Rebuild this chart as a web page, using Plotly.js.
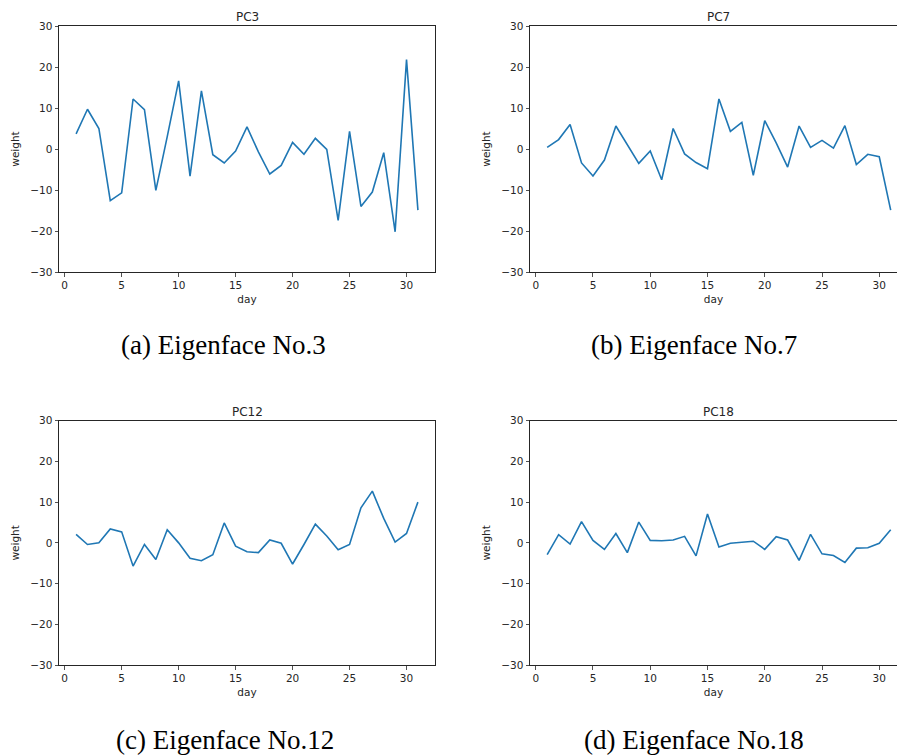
<!DOCTYPE html>
<html>
<head>
<meta charset="utf-8">
<script src="https://cdn.plot.ly/plotly-3.0.1.min.js"></script>
<style>html,body{margin:0;padding:0;background:#fff;}#chart{width:897px;height:755px;}</style>
</head>
<body>
<div id="chart"></div>
<script>
const days = Array.from({length: 31}, (_, i) => i + 1);
const pcTitles = ["PC3", "PC7", "PC12", "PC18"];
const captions = ["(a) Eigenface No.3", "(b) Eigenface No.7", "(c) Eigenface No.12", "(d) Eigenface No.18"];
const yTickVals = [-30, -20, -10, 0, 10, 20, 30];
const xTickVals = [0, 5, 10, 15, 20, 25, 30];

const pc3 = [3.7, 9.7, 5.0, -12.6, -10.7, 12.2, 9.6, -10.1, 3.0, 16.6, -6.6, 14.2, -1.4, -3.4, -0.5, 5.4,
  -0.7, -6.1, -4.0, 1.6, -1.3, 2.6, -0.1, -17.4, 4.3, -14.0, -10.5, -0.9, -20.2, 21.8, -14.9];
const pc7 = [0.4, 2.3, 6.0, -3.4, -6.6, -2.7, 5.6, 0.9, -3.5, -0.5, -7.5, 5.0, -1.2, -3.3, -4.8, 12.2,
  4.3, 6.5, -6.4, 6.9, 1.5, -4.4, 5.6, 0.4, 2.1, 0.2, 5.7, -3.8, -1.3, -1.9, -14.9];
const pc12 = [2.1, -0.4, 0.0, 3.4, 2.7, -5.7, -0.4, -4.1, 3.2, 0.0, -3.8, -4.4, -2.9, 4.9, -0.8, -2.2,
  -2.4, 0.7, -0.1, -5.2, -0.4, 4.6, 1.7, -1.7, -0.4, 8.6, 12.7, 6.0, 0.2, 2.3, 10.0];
const pc18 = [-2.9, 2.0, -0.3, 5.2, 0.6, -1.6, 2.3, -2.4, 5.1, 0.6, 0.5, 0.7, 1.6, -3.2, 7.1, -1.0,
  -0.1, 0.2, 0.4, -1.6, 1.5, 0.7, -4.3, 2.1, -2.7, -3.1, -4.8, -1.3, -1.2, -0.1, 3.2];
const series = [pc3, pc7, pc12, pc18];

const W = 897, H = 755;
const left = [[59, 435], [530, 897], [59, 435], [530, 897]];
const vert = [[26, 272], [26, 272], [420.7, 665], [420.7, 665]];
const xRanges = [[-0.5, 32.5], [-0.5, 31.55], [-0.5, 32.5], [-0.5, 31.55]];
const capPos = [[223, 345], [694, 345], [225, 740], [694, 740]];

const tickFont = {family: "DejaVu Sans", size: 10.5, color: "#262626"};
const traces = [];
const layout = {
  width: W, height: H,
  margin: {l: 0, r: 0, t: 0, b: 0},
  paper_bgcolor: "#fff", plot_bgcolor: "#fff",
  showlegend: false,
  annotations: []
};

for (let i = 0; i < 4; i++) {
  const sfx = i === 0 ? "" : String(i + 1);
  traces.push({
    x: days, y: series[i], type: "scatter", mode: "lines",
    line: {color: "#1f77b4", width: 1.6},
    xaxis: "x" + sfx, yaxis: "y" + sfx, hoverinfo: "x+y"
  });
  const full = xRanges[i][1] > 32;
  layout["xaxis" + sfx] = {
    domain: [left[i][0] / W, left[i][1] / W],
    range: xRanges[i],
    anchor: "y" + sfx,
    tickvals: xTickVals,
    ticks: "outside", ticklen: 3.5, tickwidth: 0.8, tickcolor: "#262626",
    showline: true, linecolor: "#262626", linewidth: 1, mirror: true,
    showgrid: false, zeroline: false,
    tickfont: tickFont,
    title: {text: "day", font: {family: "DejaVu Sans", size: 10.5, color: "#262626"}, standoff: 5}
  };
  layout["yaxis" + sfx] = {
    domain: [1 - vert[i][1] / H, 1 - vert[i][0] / H],
    range: [-30, 30],
    anchor: "x" + sfx,
    tickvals: yTickVals,
    ticks: "outside", ticklen: 3.5, tickwidth: 0.8, tickcolor: "#262626",
    showline: true, linecolor: "#262626", linewidth: 1, mirror: full,
    showgrid: false, zeroline: false,
    tickfont: tickFont,
    title: {text: "weight", font: {family: "DejaVu Sans", size: 10.5, color: "#262626"}, standoff: 8}
  };
  layout.annotations.push({
    text: pcTitles[i], xref: "paper", yref: "paper",
    x: ((left[i][0] + (full ? left[i][1] : 907)) / 2) / W,
    y: 1 - (vert[i][0] - 9) / H,
    xanchor: "center", yanchor: "middle", showarrow: false,
    font: {family: "DejaVu Sans", size: 12, color: "#262626"}
  });
  layout.annotations.push({
    text: captions[i], xref: "paper", yref: "paper",
    x: capPos[i][0] / W, y: 1 - capPos[i][1] / H,
    xanchor: "center", yanchor: "middle", showarrow: false,
    font: {family: "Liberation Serif, Times New Roman, serif", size: 27, color: "#000"}
  });
}

Plotly.newPlot("chart", traces, layout, {displayModeBar: false, staticPlot: true});
</script>
</body>
</html>
